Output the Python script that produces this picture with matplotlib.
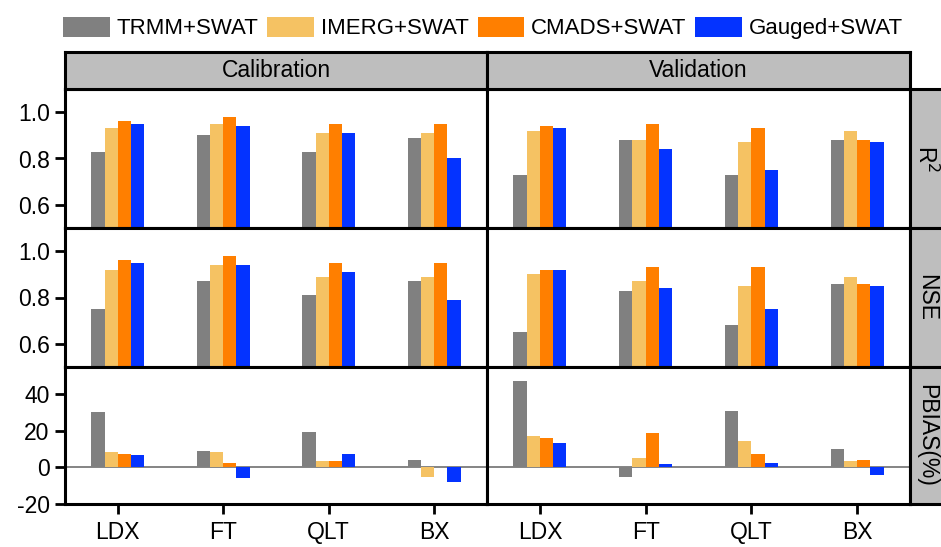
import matplotlib
matplotlib.use("Agg")
import matplotlib.pyplot as plt
import numpy as np

plt.rcParams["font.family"] = ["Liberation Sans", "DejaVu Sans"]

sites = ["LDX", "FT", "QLT", "BX"]
series = ["TRMM+SWAT", "IMERG+SWAT", "CMADS+SWAT", "Gauged+SWAT"]
colors = ["#808080", "#F5C263", "#FF7F00", "#0433FF"]
periods = ["Calibration", "Validation"]
metrics = ["R$^2$", "NSE", "PBIAS(%)"]

# rows: TRMM, IMERG, CMADS, Gauged ; columns: LDX, FT, QLT, BX
r2_cal = [[0.83, 0.90, 0.83, 0.89],
          [0.93, 0.95, 0.91, 0.91],
          [0.96, 0.98, 0.95, 0.95],
          [0.95, 0.94, 0.91, 0.80]]
r2_val = [[0.73, 0.88, 0.73, 0.88],
          [0.92, 0.88, 0.87, 0.92],
          [0.94, 0.95, 0.93, 0.88],
          [0.93, 0.84, 0.75, 0.87]]
nse_cal = [[0.75, 0.87, 0.81, 0.87],
           [0.92, 0.94, 0.89, 0.89],
           [0.96, 0.98, 0.95, 0.95],
           [0.95, 0.94, 0.91, 0.79]]
nse_val = [[0.65, 0.83, 0.68, 0.86],
           [0.90, 0.87, 0.85, 0.89],
           [0.92, 0.93, 0.93, 0.86],
           [0.92, 0.84, 0.75, 0.85]]
pbias_cal = [[30.6, 8.8, 19.3, 4.3],
             [8.3, 8.3, 3.6, -5.0],
             [7.2, 2.3, 3.6, 0.0],
             [6.8, -5.6, 7.6, -7.9]]
pbias_val = [[47.6, -5.4, 31.0, 10.3],
             [17.3, 5.2, 14.4, 3.4],
             [16.2, 18.7, 7.2, 4.1],
             [13.3, 1.8, 2.7, -4.1]]

panel_data = [[r2_cal, r2_val], [nse_cal, nse_val], [pbias_cal, pbias_val]]
ylims = [(0.5, 1.1), (0.5, 1.1), (-20, 55)]
yticks = [[0.6, 0.8, 1.0], [0.6, 0.8, 1.0], [-20, 0, 20, 40]]
ytick_fmt = ["{:.1f}", "{:.1f}", "{:.0f}"]

W, H = 941, 547
fig = plt.figure(figsize=(W / 100, H / 100), dpi=100)


def rect(x0, y0, x1, y1):
    return [x0 / W, 1 - y1 / H, (x1 - x0) / W, (y1 - y0) / H]


cols = [(65, 487), (487, 910)]
rows = [(89, 228), (228, 367), (367, 504)]
strip_color = "#BEBEBE"
lw = 2.2
fs = 16.5

x = np.arange(len(sites))
bw = 0.125
offsets = (np.arange(len(series)) - 1.5) * bw

for r, (y0, y1) in enumerate(rows):
    for c, (x0, x1) in enumerate(cols):
        ax = fig.add_axes(rect(x0, y0, x1, y1))
        data = panel_data[r][c]
        for s in range(len(series)):
            ax.bar(x + offsets[s], data[s], width=bw, color=colors[s],
                   linewidth=0, label=series[s] if (r == 0 and c == 0) else None)
        if r == 2:
            ax.axhline(0, color="#707070", lw=1.2, zorder=0)
        ax.set_xlim(-0.5, 3.5)
        ax.set_ylim(*ylims[r])
        for sp in ax.spines.values():
            sp.set_linewidth(lw)
        ax.tick_params(direction="out", length=7, width=2, labelsize=fs, pad=4)
        if c == 0:
            ax.set_yticks(yticks[r])
            ax.set_yticklabels([ytick_fmt[r].format(v) for v in yticks[r]])
        else:
            ax.set_yticks([])
        if r == 2:
            ax.set_xticks(x)
            ax.set_xticklabels(sites)
            ax.tick_params(axis="x", pad=5)
        else:
            ax.set_xticks([])

# period header strips
for c, (x0, x1) in enumerate(cols):
    sax = fig.add_axes(rect(x0, 52, x1, 89))
    sax.set_facecolor(strip_color)
    sax.set_xticks([])
    sax.set_yticks([])
    for sp in sax.spines.values():
        sp.set_linewidth(lw)
    sax.text(0.5, 0.5, periods[c], ha="center", va="center", fontsize=16.5,
             transform=sax.transAxes)

# metric strips on the right
for r, (y0, y1) in enumerate(rows):
    sax = fig.add_axes(rect(910, y0, 946, y1))
    sax.set_facecolor(strip_color)
    sax.set_xticks([])
    sax.set_yticks([])
    for sp in sax.spines.values():
        sp.set_linewidth(lw)
    sax.text(0.45, 0.5, metrics[r], ha="center", va="center", fontsize=16.5,
             rotation=-90, transform=sax.transAxes)

handles, labels = fig.axes[0].get_legend_handles_labels()
fig.legend(handles, labels, loc="center", bbox_to_anchor=(483 / W, 1 - 28 / H),
           ncol=4, frameon=False, fontsize=16, handlelength=2.1,
           handleheight=1.0, handletextpad=0.3, columnspacing=0.4,
           borderpad=0, borderaxespad=0)

fig.savefig("out.png", dpi=100)
